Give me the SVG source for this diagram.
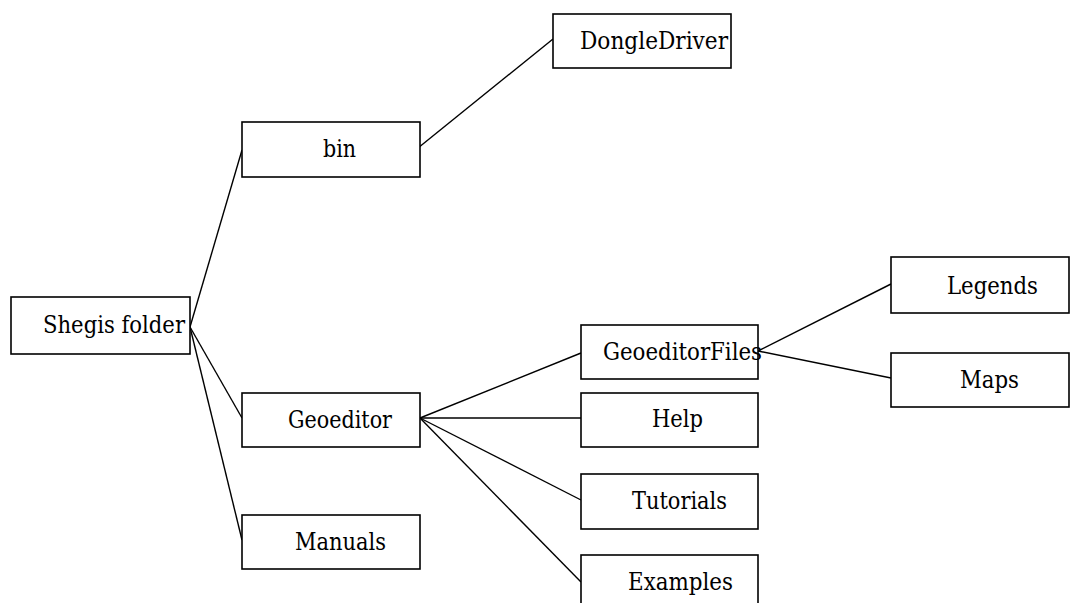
<svg xmlns="http://www.w3.org/2000/svg" width="1074" height="603" viewBox="0 0 1074 603">
<style>
rect{fill:#fff;stroke:#000;stroke-width:1.6}
text{font-family:'DejaVu Serif','Liberation Serif',serif;font-size:24px;fill:#000}
.c line{stroke:#000;stroke-width:1.4}
</style>
<rect width="1074" height="603" style="stroke:none"/>
<g class="c" id="connectors">
<line x1="190" y1="327" x2="242" y2="150"/>
<line x1="190" y1="327" x2="242" y2="418"/>
<line x1="190" y1="327" x2="242" y2="540"/>
<line x1="418" y1="148" x2="553" y2="39"/>
<line x1="420" y1="418" x2="581" y2="353"/>
<line x1="420" y1="418" x2="581" y2="418"/>
<line x1="420" y1="418" x2="581" y2="500"/>
<line x1="420" y1="418" x2="581" y2="582"/>
<line x1="758" y1="351" x2="891" y2="284"/>
<line x1="758" y1="351" x2="891" y2="378"/>
</g>
<g id="shegis"><rect x="11" y="297" width="179" height="57"/><text x="43" y="333" textLength="142" lengthAdjust="spacingAndGlyphs">Shegis folder</text></g>
<g id="bin"><rect x="242" y="122" width="178" height="55"/><text x="323" y="157" textLength="33" lengthAdjust="spacingAndGlyphs">bin</text></g>
<g id="dongle"><rect x="553" y="14" width="178" height="54"/><text x="580" y="49" textLength="148" lengthAdjust="spacingAndGlyphs">DongleDriver</text></g>
<g id="geoeditor"><rect x="242" y="393" width="178" height="54"/><text x="288" y="428" textLength="104" lengthAdjust="spacingAndGlyphs">Geoeditor</text></g>
<g id="manuals"><rect x="242" y="515" width="178" height="54"/><text x="295" y="550" textLength="91" lengthAdjust="spacingAndGlyphs">Manuals</text></g>
<g id="geoeditorfiles"><rect x="581" y="325" width="177" height="54"/><text x="603" y="360" textLength="159" lengthAdjust="spacingAndGlyphs">GeoeditorFiles</text></g>
<g id="help"><rect x="581" y="393" width="177" height="54"/><text x="652" y="427" textLength="51" lengthAdjust="spacingAndGlyphs">Help</text></g>
<g id="tutorials"><rect x="581" y="474" width="177" height="55"/><text x="632" y="509" textLength="95" lengthAdjust="spacingAndGlyphs">Tutorials</text></g>
<g id="examples"><rect x="581" y="555" width="177" height="55"/><text x="628" y="590" textLength="105" lengthAdjust="spacingAndGlyphs">Examples</text></g>
<g id="legends"><rect x="891" y="257" width="178" height="56"/><text x="947" y="294" textLength="91" lengthAdjust="spacingAndGlyphs">Legends</text></g>
<g id="maps"><rect x="891" y="353" width="178" height="54"/><text x="960" y="388" textLength="59" lengthAdjust="spacingAndGlyphs">Maps</text></g>
</svg>
